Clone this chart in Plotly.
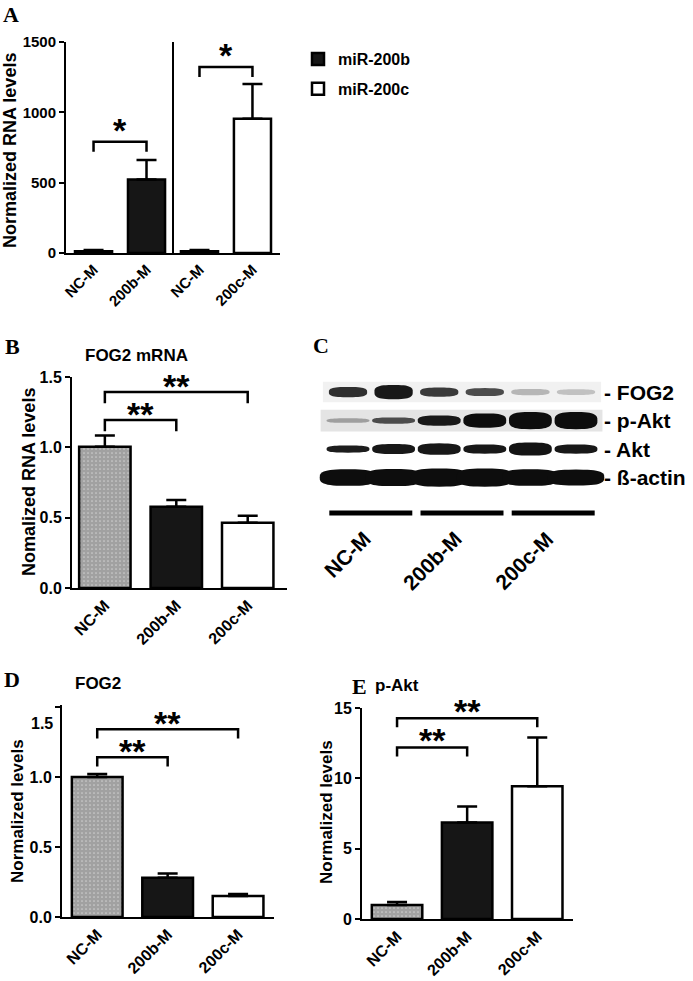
import math
import plotly.graph_objects as go

W, H = 693, 981
SANS = "Arial, 'Liberation Sans', Helvetica, sans-serif"
SERIF = "'Times New Roman', 'Liberation Serif', serif"
INK = "#161616"
CHECK = "#0e0e0e"

# ---------------- Panel A data ----------------
a_ticktext = ["NC-M", "200b-M", "NC-M", "200c-M"]
a_200b_pos = [0, 1]
a_200b_vals = [12, 522]
a_200b_err = [9, 140]
a_200c_pos = [2, 3]
a_200c_vals = [12, 955]
a_200c_err = [9, 246]
a_yticks = [0, 500, 1000, 1500]
a_brackets = [(0, 1, 790, "*"), (2, 3, 1322, "*")]
a_drop = 70

# ---------------- Panels B, D, E data ----------------
groups = ["NC-M", "200b-M", "200c-M"]

b_vals = [1.004, 0.578, 0.464]
b_err = [0.08, 0.048, 0.05]
b_yticks = [0, 0.5, 1.0, 1.5]
b_brackets = [(0, 1, 1.194, "**"), (0, 2, 1.393, "**")]
b_drop = 0.08

d_vals = [1.0, 0.28, 0.15]
d_err = [0.022, 0.03, 0.014]
d_yticks = [0, 0.5, 1.0, 1.5]
d_brackets = [(0, 1, 1.14, "**"), (0, 2, 1.34, "**")]
d_drop = 0.065

e_vals = [1.0, 6.86, 9.43]
e_err = [0.2, 1.14, 3.47]
e_yticks = [0, 5, 10, 15]
e_brackets = [(0, 1, 12.2, "**"), (0, 2, 14.28, "**")]
e_drop = 0.64

# ---------------- Panel C (western blot) data ----------------
blot_rows = ["FOG2", "p-Akt", "Akt", "ß-actin"]
blot_row_y = [4, 3, 2, 1]
blot_lanes = [1, 2, 3, 4, 5, 6]
blot_groups = ["NC-M", "200b-M", "200c-M"]
blot_group_lanes = [(1, 2), (3, 4), (5, 6)]
# band darkness (0..1) per lane, and band thickness (fraction of row spacing)
band_density = {
    "FOG2":    [0.85, 0.95, 0.80, 0.72, 0.25, 0.20],
    "p-Akt":   [0.35, 0.72, 0.95, 1.00, 1.00, 1.00],
    "Akt":     [0.93, 0.95, 0.95, 0.95, 0.97, 0.95],
    "ß-actin": [1.00, 1.00, 1.00, 1.00, 1.00, 1.00],
}
band_thick = {
    "FOG2":    [0.36, 0.50, 0.32, 0.28, 0.22, 0.20],
    "p-Akt":   [0.16, 0.22, 0.36, 0.50, 0.60, 0.60],
    "Akt":     [0.25, 0.35, 0.40, 0.32, 0.46, 0.32],
    "ß-actin": [0.58, 0.60, 0.64, 0.64, 0.58, 0.56],
}
band_halfwidth = {"FOG2": 0.42, "p-Akt": 0.47, "Akt": 0.47, "ß-actin": 0.62}


def px_x(px):
    return px / W


def px_y(py):
    return 1 - py / H


fig = go.Figure()
annotations = []
shapes = []

err_style = dict(type="data", symmetric=False, color="black", thickness=2.5, width=10)

# ---------- Panel A ----------
fig.add_trace(go.Bar(
    x=a_200b_pos, y=a_200b_vals, width=0.7, name="miR-200b", legendgroup="b",
    marker=dict(color=INK, line=dict(color="black", width=2.5)),
    error_y=dict(array=a_200b_err, arrayminus=[0] * 2, **err_style),
    xaxis="x", yaxis="y"))
fig.add_trace(go.Bar(
    x=a_200c_pos, y=a_200c_vals, width=0.7, name="miR-200c", legendgroup="c",
    marker=dict(color="white", line=dict(color="black", width=2.5)),
    error_y=dict(array=a_200c_err, arrayminus=[0] * 2, **err_style),
    xaxis="x", yaxis="y"))
# divider between the two experiments
fig.add_trace(go.Scatter(x=[1.5, 1.5], y=[0, a_yticks[-1]], mode="lines",
                         line=dict(color="black", width=2), showlegend=False,
                         hoverinfo="skip", xaxis="x", yaxis="y"))


def add_brackets(brs, drop, xa, ya, yshift):
    for x1, x2, top, star in brs:
        fig.add_trace(go.Scatter(
            x=[x1, x1, x2, x2], y=[top - drop, top, top, top - drop], mode="lines",
            line=dict(color="black", width=2.5), showlegend=False, hoverinfo="skip",
            xaxis=xa, yaxis=ya, cliponaxis=False))
        annotations.append(dict(
            x=(x1 + x2) / 2, y=top, xref=xa, yref=ya, text=star, showarrow=False,
            xanchor="center", yanchor="bottom", yshift=yshift,
            font=dict(family=SANS, size=34, color="black", weight="bold")))


add_brackets(a_brackets, a_drop, "x", "y", -9)


def bar_panel(vals, errs, xa, ya):
    fig.add_trace(go.Bar(
        x=[0, 1, 2], y=vals, width=0.72, showlegend=False,
        marker=dict(color=["white", INK, "white"],
                    line=dict(color="black", width=2.5),
                    pattern=dict(shape=[".", "", ""], fillmode="overlay",
                                 fgcolor=CHECK, size=4, solidity=0.85)),
        error_y=dict(array=errs, arrayminus=[0] * 3, **err_style),
        xaxis=xa, yaxis=ya))


bar_panel(b_vals, b_err, "x2", "y2")
add_brackets(b_brackets, b_drop, "x2", "y2", -15)
bar_panel(d_vals, d_err, "x4", "y4")
add_brackets(d_brackets, d_drop, "x4", "y4", -15)
bar_panel(e_vals, e_err, "x5", "y5")
add_brackets(e_brackets, e_drop, "x5", "y5", -14)


# ---------- Panel C (blot) ----------
def band_path(xc, yc, hw, hh, n=3.0, npts=48):
    pts = []
    for i in range(npts):
        t = 2 * math.pi * i / npts
        c, s = math.cos(t), math.sin(t)
        x = xc + hw * math.copysign(abs(c) ** (2 / n), c)
        y = yc + hh * math.copysign(abs(s) ** (2 / n), s)
        pts.append(f"{x:.4f},{y:.4f}")
    return "M" + " L".join(pts) + " Z"


# faint membrane backgrounds for the FOG2 and p-Akt strips
shapes.append(dict(type="rect", xref="x3", yref="y3", x0=0.45, x1=6.55,
                   y0=blot_row_y[0] - 0.36, y1=blot_row_y[0] + 0.36,
                   fillcolor="#f1f1f1", line=dict(width=0), layer="below"))
shapes.append(dict(type="rect", xref="x3", yref="y3", x0=0.4, x1=6.58,
                   y0=blot_row_y[1] - 0.38, y1=blot_row_y[1] + 0.38,
                   fillcolor="#e4e4e4", line=dict(width=0), layer="below"))

for row, ry in zip(blot_rows, blot_row_y):
    for lane, dens, th in zip(blot_lanes, band_density[row], band_thick[row]):
        g = int(round(238 - 225 * dens))
        shapes.append(dict(type="path", xref="x3", yref="y3",
                           path=band_path(lane, ry, band_halfwidth[row], th / 2),
                           fillcolor=f"rgb({g},{g},{g})", line=dict(width=0)))
    annotations.append(dict(x=6.58, y=ry, xref="x3", yref="y3", text="- " + row,
                            showarrow=False, xanchor="left", yanchor="middle",
                            font=dict(family=SANS, size=21, color="black", weight="bold")))

ux, uy = [], []
for (l1, l2) in blot_group_lanes:
    c = (l1 + l2) / 2
    ux += [c - 0.91, c + 0.91, None]
    uy += [-0.245, -0.245, None]
fig.add_trace(go.Scatter(x=ux, y=uy, mode="lines", line=dict(color="black", width=5),
                         showlegend=False, hoverinfo="skip", xaxis="x3", yaxis="y3"))
for (l1, l2), name in zip(blot_group_lanes, blot_groups):
    annotations.append(dict(x=(l1 + l2) / 2 + 0.15, y=px_y(524), xref="x3", yref="paper",
                            text=name, textangle=-45, showarrow=False,
                            xanchor="right", yanchor="top",
                            font=dict(family=SANS, size=21, color="black", weight="bold")))

# ---------- axes ----------
tick_font15 = dict(family=SANS, size=15, color="black", weight="bold")
tick_font16 = dict(family=SANS, size=16, color="black", weight="bold")


def yaxis(top_px, bot_px, rng, tickvals, anchor, font, ticktext=None):
    d = dict(domain=[px_y(bot_px), px_y(top_px)], range=rng, tickvals=tickvals,
             ticks="outside", ticklen=5, tickwidth=2, tickcolor="black",
             showline=True, linewidth=2, linecolor="black", showgrid=False,
             zeroline=False, tickfont=font, anchor=anchor, fixedrange=True,
             automargin=False)
    if ticktext is not None:
        d["ticktext"] = ticktext
    return d


def xaxis(l_px, r_px, rng, tickvals, ticktext, anchor, font):
    return dict(domain=[px_x(l_px), px_x(r_px)], range=rng, tickvals=tickvals,
                ticktext=ticktext, ticks="", tickangle=-45, showline=True, linewidth=2,
                linecolor="black", showgrid=False, zeroline=False, tickfont=font,
                anchor=anchor, fixedrange=True, automargin=False)


layout_axes = dict(
    xaxis=xaxis(66, 280, [-0.52, 3.52], [0, 1, 2, 3], a_ticktext, "y", tick_font15),
    yaxis=yaxis(42, 253, [0, 1500], a_yticks, "x", tick_font15),
    xaxis2=xaxis(72, 287, [-0.46, 2.55], [0, 1, 2], groups, "y2", tick_font16),
    yaxis2=yaxis(377, 588, [0, 1.5], b_yticks, "x2", tick_font16,
                 ["0.0", "0.5", "1.0", "1.5"]),
    xaxis3=dict(domain=[px_x(318), px_x(605)], range=[0.342, 6.636], visible=False,
                anchor="y3", fixedrange=True),
    yaxis3=dict(domain=[px_y(522), px_y(375)], range=[-0.56, 4.6], visible=False,
                anchor="x3", fixedrange=True),
    xaxis4=xaxis(62, 274, [-0.5, 2.51], [0, 1, 2], groups, "y4", tick_font16),
    yaxis4=yaxis(705, 917, [0, 1.514], d_yticks, "x4", tick_font16,
                 ["0.0", "0.5", "1.0", ""]),
    xaxis5=xaxis(362, 573, [-0.5, 2.51], [0, 1, 2], groups, "y5", tick_font16),
    yaxis5=yaxis(708, 919, [0, 15], e_yticks, "x5", tick_font16),
)

# D's "1.5" label sits below its tick in the original
annotations.append(dict(x=px_x(55), y=px_y(723), xref="paper", yref="paper", text="1.5",
                        showarrow=False, xanchor="right", yanchor="middle", font=tick_font16))


def text_ann(x, y, text, size, family=SANS, angle=0, xanchor="center"):
    annotations.append(dict(x=px_x(x), y=px_y(y), xref="paper", yref="paper", text=text,
                            showarrow=False, textangle=angle, xanchor=xanchor,
                            yanchor="middle",
                            font=dict(family=family, size=size, color="black",
                                      weight="bold")))


# panel letters
text_ann(11, 14, "A", 22, SERIF)
text_ann(12, 346, "B", 22, SERIF)
text_ann(321, 345, "C", 22, SERIF)
text_ann(12, 679, "D", 22, SERIF)
text_ann(360, 686, "E", 22, SERIF)
# panel titles
text_ann(83, 355, "FOG2 mRNA", 17, xanchor="left")
text_ann(73, 683, "FOG2", 17, xanchor="left")
text_ann(373, 685, "p-Akt", 17, xanchor="left")
# y axis titles
text_ann(10, 151, "Normalized RNA levels", 18, angle=-90)
text_ann(29, 482, "Nomalized RNA levels", 18, angle=-90)
text_ann(17, 811, "Normalized levels", 17, angle=-90)
text_ann(326, 812, "Normalized levels", 17, angle=-90)

fig.update_layout(
    width=W, height=H, margin=dict(l=0, r=0, t=0, b=0, pad=0, autoexpand=False),
    paper_bgcolor="white", plot_bgcolor="rgba(0,0,0,0)",
    barmode="overlay", hovermode=False,
    showlegend=True,
    legend=dict(x=px_x(298), y=px_y(42), xanchor="left", yanchor="top",
                font=dict(family=SANS, size=16, color="black", weight="bold"),
                bgcolor="rgba(0,0,0,0)", tracegroupgap=6, traceorder="grouped"),
    annotations=annotations, shapes=shapes,
    **layout_axes,
)

fig.write_html("out.html", config={"displayModeBar": False},
               post_script="document.body.style.margin='0px';"
                           "document.documentElement.style.overflow='hidden';")
